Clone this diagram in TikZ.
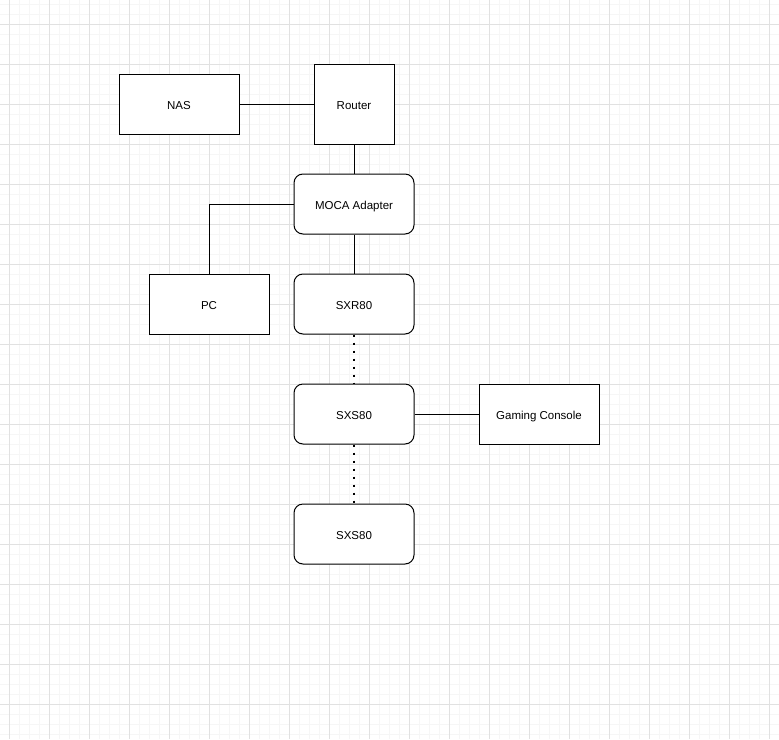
\documentclass[tikz,border=0pt]{standalone}
\usepackage{fontspec}
\setmainfont{Liberation Sans}
\definecolor{gMajor}{HTML}{E1E1E1}
\definecolor{gMinor}{HTML}{F6F6F6}

\begin{document}
\begin{tikzpicture}[x=1pt,y=1pt,yscale=-1,font=\fontsize{11.5}{14}\selectfont]
		\tikzstyle{BOX} = [draw=black, line width=1pt, fill=white, minimum width=120pt, minimum height=60pt, inner sep=0pt, text height=10pt, text depth=0pt]
		\tikzstyle{dev} = [BOX]
		\tikzstyle{mesh} = [BOX, rounded corners=9pt]
		\tikzstyle{link} = [line width=1pt]
		\tikzstyle{wifi} = [line width=2pt, dash pattern=on 2pt off 6pt]

		% background and grid
		\fill[white] (0,0) rectangle (779,739);
		\useasboundingbox (0,0) rectangle (779,739);
		\foreach \x in {9,19,...,779} \draw[gMinor, line width=1pt] (\x,0) -- (\x,739);
		\foreach \y in {4,14,...,739} \draw[gMinor, line width=1pt] (0,\y) -- (779,\y);
		\foreach \x in {9,49,...,779} \draw[gMajor, line width=1pt] (\x,0) -- (\x,739);
		\foreach \y in {24,64,...,739} \draw[gMajor, line width=1pt] (0,\y) -- (779,\y);

		\node[dev] (nas) at			(179, 104) {NAS};
		\node[dev, minimum width=80pt, minimum height=80pt] (router) at	(354, 104) {Router};
		\node[mesh] (moca) at		(354, 204) {MOCA Adapter};
		\node[dev] (pc) at			(209, 304) {PC};
		\node[mesh] (sxr) at		(354, 304) {SXR80};
		\node[mesh] (sxsOne) at		(354, 414) {SXS80};
		\node[dev] (console) at		(539, 414) {Gaming Console};
		\node[mesh] (sxsTwo) at		(354, 534) {SXS80};
		\draw[link] (nas.east) -- (router.west);
		\draw[link] (router.south) -- (moca.north);
		\draw[link] (moca.west) -| (pc.north);
		\draw[link] (moca.south) -- (sxr.north);
		\draw[link] (sxsOne.east) -- (console.west);
		\draw[wifi] (sxr.south) -- (sxsOne.north);
		\draw[wifi] (sxsOne.south) -- (sxsTwo.north);
\end{tikzpicture}
\end{document}
